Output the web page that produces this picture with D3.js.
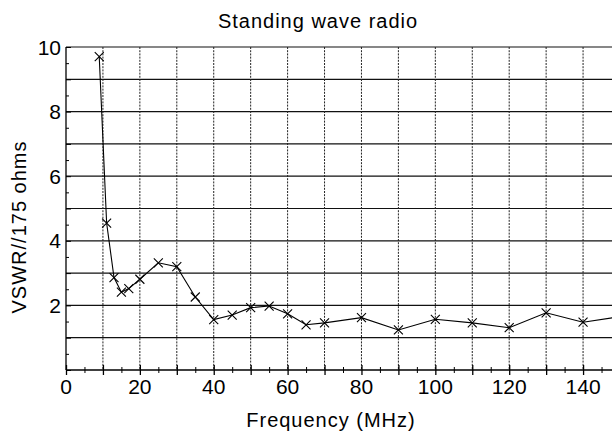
<!DOCTYPE html>
<html>
<head>
<meta charset="utf-8">
<script src="https://cdn.jsdelivr.net/npm/d3@7"></script>
<style>
  html, body { margin: 0; padding: 0; background: #fff; }
  svg { display: block; font-family: "Liberation Sans", Arial, Helvetica, sans-serif; }
</style>
</head>
<body>
<svg id="chart" width="612" height="432"></svg>
<script>
// ---- data ----
const freqMHz = [9, 11, 13, 15, 17, 20, 25, 30, 35, 40, 45, 50, 55, 60, 65, 70, 80, 90, 100, 110, 120, 130, 140, 150];
const vswr    = [9.7, 4.55, 2.86, 2.41, 2.52, 2.81, 3.32, 3.2, 2.26, 1.56, 1.7, 1.93, 1.98, 1.74, 1.4, 1.46, 1.62, 1.24, 1.57, 1.46, 1.31, 1.77, 1.48, 1.65];
const xTickLabels = [0, 20, 40, 60, 80, 100, 120, 140];
const yTickLabels = [2, 4, 6, 8, 10];
const titleText = "Standing wave radio";
const xTitle = "Frequency (MHz)";
const yTitle = "VSWR//175 ohms";

// ---- layout ----
const svg = d3.select("#chart");
const x = d3.scaleLinear().domain([0, 150]).range([66, 620]);
const y = d3.scaleLinear().domain([0, 10]).range([370, 47]);
const xMax = 612;

const grid = svg.append("g");
// horizontal grid lines (solid)
grid.selectAll("line.h").data(d3.range(1, 11)).join("line")
  .attr("x1", x(0)).attr("x2", xMax)
  .attr("y1", d => y(d)).attr("y2", d => y(d))
  .attr("stroke", "#111").attr("stroke-width", 1.2);
// vertical grid lines (dotted)
grid.selectAll("line.v").data(d3.range(10, 150, 10)).join("line")
  .attr("x1", d => x(d)).attr("x2", d => x(d))
  .attr("y1", y(10)).attr("y2", y(0))
  .attr("stroke", "#222").attr("stroke-width", 1)
  .attr("stroke-dasharray", "2,1.2");

// axes lines
svg.append("line").attr("x1", x(0)).attr("x2", x(0)).attr("y1", y(10)).attr("y2", y(0))
  .attr("stroke", "#000").attr("stroke-width", 1.3);
svg.append("line").attr("x1", x(0)).attr("x2", xMax).attr("y1", y(0)).attr("y2", y(0))
  .attr("stroke", "#000").attr("stroke-width", 1.5);

// x axis ticks
const xAxis = d3.axisBottom(x).tickValues(d3.range(0, 151, 10)).tickSize(5).tickFormat("");
const gx = svg.append("g").attr("transform", `translate(0,${y(0)})`).call(xAxis);
gx.select(".domain").remove();
gx.selectAll(".tick line").attr("y1", -5).attr("stroke", "#000").attr("stroke-width", 1.3);
const xMinor = d3.axisBottom(x).tickValues(d3.range(5, 151, 10)).tickSize(3).tickFormat("");
const gxm = svg.append("g").attr("transform", `translate(0,${y(0)})`).call(xMinor);
gxm.select(".domain").remove();
gxm.selectAll(".tick line").attr("y1", -3).attr("stroke", "#000");

// x tick labels
svg.append("g").selectAll("text").data(xTickLabels).join("text")
  .attr("x", d => x(d)).attr("y", 394)
  .attr("text-anchor", "middle").attr("font-size", 21)
  .text(d => d);

// y axis ticks (inward)
const yAxis = d3.axisRight(y).tickValues(d3.range(0, 10.01, 1)).tickSize(5).tickFormat("");
const gy = svg.append("g").attr("transform", `translate(${x(0)},0)`).call(yAxis);
gy.select(".domain").remove();
gy.selectAll(".tick line").attr("stroke", "#000");
const yMinor = d3.axisRight(y).tickValues(d3.range(0.5, 10, 1)).tickSize(3).tickFormat("");
const gym = svg.append("g").attr("transform", `translate(${x(0)},0)`).call(yMinor);
gym.select(".domain").remove();
gym.selectAll(".tick line").attr("stroke", "#000");

// y tick labels
svg.append("g").selectAll("text").data(yTickLabels).join("text")
  .attr("x", 61).attr("y", d => y(d) + 7.5)
  .attr("text-anchor", "end").attr("font-size", 21)
  .text(d => d);

// data line
const line = d3.line().x((d, i) => x(freqMHz[i])).y(d => y(d));
svg.append("path").datum(vswr)
  .attr("d", line).attr("fill", "none")
  .attr("stroke", "#000").attr("stroke-width", 1.1);

// x markers
const s = 4.5;
svg.append("g").selectAll("path").data(vswr).join("path")
  .attr("transform", (d, i) => `translate(${x(freqMHz[i])},${y(d)})`)
  .attr("d", `M${-s},${-s}L${s},${s}M${-s},${s}L${s},${-s}`)
  .attr("stroke", "#000").attr("stroke-width", 1.1).attr("fill", "none");

// titles
svg.append("text").attr("x", 318).attr("y", 28)
  .attr("text-anchor", "middle").attr("font-size", 20).attr("letter-spacing", 1)
  .text(titleText);
svg.append("text").attr("x", 331).attr("y", 427)
  .attr("text-anchor", "middle").attr("font-size", 20).attr("letter-spacing", 1)
  .text(xTitle);
svg.append("text").attr("transform", "translate(26,227) rotate(-90)")
  .attr("text-anchor", "middle").attr("font-size", 20).attr("letter-spacing", 1)
  .text(yTitle);
</script>
</body>
</html>
